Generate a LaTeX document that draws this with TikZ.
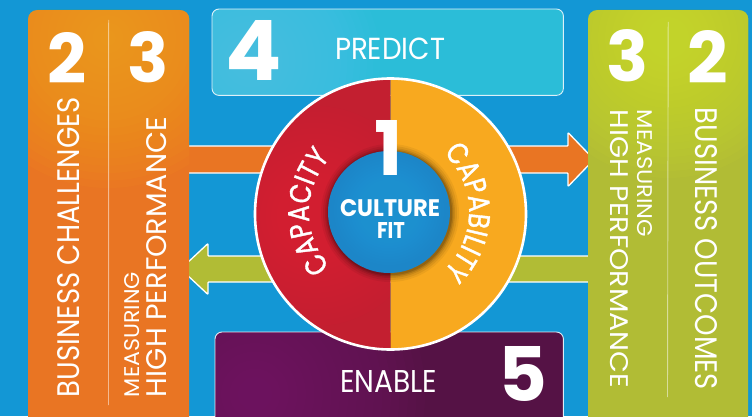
\documentclass[tikz,border=0pt]{standalone}
\usepackage{fontspec}
\setmainfont{Poppins}
\newfontfamily\popn[FakeStretch=0.82,FakeBold=1.2]{Poppins}
\usetikzlibrary{calc,decorations.text}
\definecolor{bgblue}{HTML}{1397D5}
\definecolor{orangeP}{HTML}{E97523}
\definecolor{orangeG}{HTML}{F8A81C}
\definecolor{greenP}{HTML}{B1BC35}
\definecolor{greenG}{HTML}{D0E12A}
\definecolor{cyanB}{HTML}{2BBDD8}
\definecolor{cyanG}{HTML}{55C9EC}
\definecolor{purpB}{HTML}{551245}
\definecolor{purpG}{HTML}{7A1D6C}
\definecolor{redC}{HTML}{C31F30}
\definecolor{redL}{HTML}{E01E36}
\definecolor{orC}{HTML}{F8A91F}
\definecolor{blueI}{HTML}{1C86C8}
\definecolor{blueL}{HTML}{2A9EDD}
\newcommand\fitbox[3]{\resizebox{#1}{#2}{#3}}
\newcommand\popc{\popn\fontsize{30}{30}\selectfont}
\newcommand\glowat[3]{\foreach \k in {1,...,20}{\fill[#3, opacity=0.07] (#1) circle ({#2*\k/20});}}
\begin{document}
\begin{tikzpicture}[x=1pt,y=1pt,
  panel/.style={rounded corners=9pt, inner sep=0pt, draw=none, anchor=north west},
  topbox/.style={rounded corners=7pt, inner sep=0pt, anchor=north west},
  divider/.style={draw=white, draw opacity=0.5, line width=0.9pt},
  fatarrow/.style={draw=white, line width=1.3pt, line join=round, rounded corners=0.8pt},
  lbl/.style={text=white, inner sep=0pt, anchor=center}]
\useasboundingbox (0,0) rectangle (752,416);
\fill[bgblue] (0,0) rectangle (752,416);

% arrows (behind everything)
\coordinate (oaS) at (178,256.5);
\coordinate (oaT) at (594,256.5);
\filldraw[fatarrow, fill=orangeP]
  ($(oaS)+(0,13.5)$) -- ($(oaT)+(-26,13.5)$) -- ($(oaT)+(-26,27)$) -- (oaT)
  -- ($(oaT)+(-26,-27)$) -- ($(oaT)+(-26,-13.5)$) -- ($(oaS)+(0,-13.5)$) -- cycle;
\coordinate (gaS) at (600,147);
\coordinate (gaT) at (180.7,147);
\filldraw[fatarrow, fill=greenP]
  ($(gaS)+(0,13)$) -- ($(gaT)+(27.3,13)$) -- ($(gaT)+(27.3,25.5)$) -- (gaT)
  -- ($(gaT)+(27.3,-25.5)$) -- ($(gaT)+(27.3,-13)$) -- ($(gaS)+(0,-13)$) -- cycle;

% side panels
\node[panel, fill=orangeP, minimum width=161pt, minimum height=430pt] (lp) at (28,406) {};
\begin{scope}
  \clip[rounded corners=9pt] (lp.north west) rectangle (lp.south east);
  \glowat{108,378}{150}{orangeG}
\end{scope}
\node[panel, fill=greenP, minimum width=160pt, minimum height=430pt] (rp) at (588,406) {};
\begin{scope}
  \clip[rounded corners=9pt] (rp.north west) rectangle (rp.south east);
  \glowat{668,378}{140}{greenG}
\end{scope}
\draw[divider] ($(lp.north)+(0,-10)$) -- (108.5,11);
\draw[divider] ($(rp.north)+(0,-12)$) -- (667.5,19);

% top and bottom boxes
\node[topbox, fill=cyanB, minimum width=351pt, minimum height=86pt] (pb) at (212,407) {};
\begin{scope}
  \clip[rounded corners=7pt] (pb.north west) rectangle (pb.south east);
  \glowat{250,355}{130}{cyanG}
\end{scope}
\draw[white, draw opacity=0.85, line width=0.9pt, rounded corners=7pt] (pb.north west) rectangle (pb.south east);
\node[topbox, fill=purpB, minimum width=348pt, minimum height=100pt] (eb) at (215,84) {};
\begin{scope}
  \clip[rounded corners=7pt] (eb.north west) rectangle (eb.south east);
  \glowat{255,22}{170}{purpG}
\end{scope}
\draw[white, draw opacity=0.85, line width=0.9pt, rounded corners=7pt] (eb.north west) rectangle (eb.south east);

% central ring
\node[circle, minimum size=271pt, inner sep=0pt] (ring) at (390.5,202) {};
\fill[redC] (ring.north) arc (90:270:135.5) -- cycle;
\begin{scope}
  \clip (ring.north) arc (90:270:135.5) -- cycle;
  \glowat{315,200}{110}{redL}
\end{scope}
\fill[orC] (ring.south) arc (-90:90:135.5) -- cycle;
\draw[white, line width=2.6pt] (ring.center) circle (135.5);

% inner circle with soft shadow
\coordinate (ic) at (389,204);
\foreach \r/\o in {69/0.05,67/0.07,65/0.09,63.5/0.12,62.2/0.15}
  \fill[black, opacity=\o] ($(ic)+(1,-1)$) circle (\r);
\node[circle, minimum size=122pt, inner sep=0pt] (inner) at (ic) {};
\fill[blueI] (ic) circle (61);
\glowat{389,206}{55}{blueL}

% ring texts
\path[decorate, decoration={text along path, text align=center, text color=white,
  text={|\popc|CAPACITY}}] ($(ic)+(262:80)$) arc (262:98:80);
\path[decorate, decoration={text along path, text align=center, text color=white,
  text={|\popc|CAPABILITY}}] ($(ic)+(82:80)$) arc (82:-82:80);

% labels
\node[lbl] (n2L) at (67.5,358.5) {\fitbox{!}{51pt}{\bfseries 2}};
\node[lbl] (n3L) at (148.5,358.5) {\fitbox{!}{51pt}{\bfseries 3}};
\node[lbl, rotate=90] (bcL) at (69,169) {\fitbox{300pt}{22pt}{BUSINESS CHALLENGES}};
\node[lbl, rotate=90] (msL) at (132.5,81.5) {\fitbox{125pt}{15pt}{MEASURING}};
\node[lbl, rotate=90] (hpL) at (157,159) {\fitbox{280pt}{20pt}{HIGH PERFORMANCE}};

\node[lbl] (n3R) at (627.5,360) {\fitbox{!}{52pt}{\bfseries 3}};
\node[lbl] (n2R) at (707.5,359.5) {\fitbox{!}{53pt}{\bfseries 2}};
\node[lbl, rotate=-90] (msR) at (644.5,242.5) {\fitbox{127pt}{15pt}{MEASURING}};
\node[lbl, rotate=-90] (hpR) at (619,167) {\fitbox{278pt}{18pt}{HIGH PERFORMANCE}};
\node[lbl, rotate=-90] (boR) at (706,167) {\fitbox{282pt}{22pt}{BUSINESS OUTCOMES}};

\node[lbl] (n4) at (254,366) {\fitbox{!}{60pt}{\bfseries 4}};
\node[lbl] (pr) at (390,367) {\fitbox{110pt}{21.5pt}{PREDICT}};
\node[lbl] (n5) at (522.5,42) {\fitbox{!}{55pt}{\bfseries 5}};
\node[lbl] (en) at (388.5,35) {\fitbox{97pt}{22pt}{ENABLE}};

\node[lbl] (n1) at (388.5,268.5) {\fitbox{!}{55pt}{\bfseries 1}};
\node[lbl] (cu) at (390,207.5) {\fitbox{100pt}{17pt}{\bfseries CULTURE}};
\node[lbl] (fi) at (391,186) {\fitbox{28pt}{16pt}{\bfseries FIT}};
\end{tikzpicture}
\end{document}
